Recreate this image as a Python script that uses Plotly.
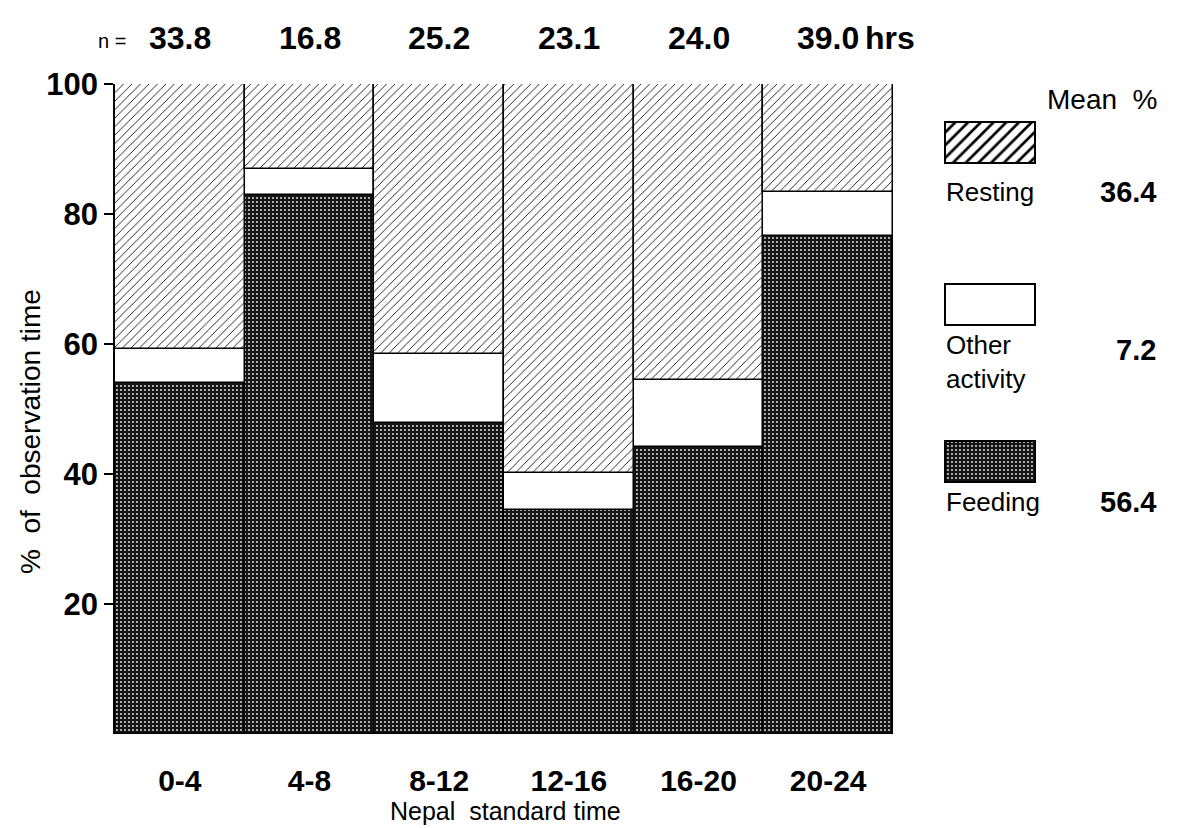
import plotly.graph_objects as go

# Four-hour periods of the day and observation effort per period
periods = ["0-4", "4-8", "8-12", "12-16", "16-20", "20-24"]
hours = ["33.8", "16.8", "25.2", "23.1", "24.0", "39.0"]

# Percent of observation time per activity
feeding = [54.0, 83.0, 47.8, 34.4, 44.2, 76.6]
other = [5.3, 4.0, 10.6, 5.7, 10.3, 6.8]
resting = [round(100 - f - o, 1) for f, o in zip(feeding, other)]

# Legend entries with the overall mean percentages
key_labels = ["Resting", "Other<br>activity", "Feeding"]
key_means = ["36.4", "7.2", "56.4"]
y_ticks = [20, 40, 60, 80, 100]

W, H = 1187, 828
ML, MR, MT, MB = 115, 20, 84, 94
PW, PH = W - ML - MR, H - MT - MB


def px(x):
    return (x - ML) / PW


def py(y):
    return (H - MB - y) / PH


FONT = "Liberation Sans"
stipple = dict(shape=".", fgcolor="#e6e6e6", bgcolor="#141414", size=4,
               solidity=0.18, fillmode="replace")
hatch = dict(shape="/", fgcolor="#000000", bgcolor="#ffffff", size=6,
             solidity=0.14, fillmode="replace")
edge = dict(color="#000000", width=1.5)

fig = go.Figure()

base_other = feeding
base_rest = [f + o for f, o in zip(feeding, other)]
fig.add_trace(go.Bar(x=periods, y=feeding, base=[0] * 6, width=1,
                     marker=dict(color="#141414", pattern=stipple, line=edge),
                     showlegend=False, hoverinfo="skip"))
fig.add_trace(go.Bar(x=periods, y=other, base=base_other, width=1,
                     marker=dict(color="#ffffff", line=edge),
                     showlegend=False, hoverinfo="skip"))
fig.add_trace(go.Bar(x=periods, y=resting, base=base_rest, width=1,
                     marker=dict(color="#ffffff", pattern=hatch, line=edge),
                     showlegend=False, hoverinfo="skip"))

# Key swatches, drawn on a pixel-scaled helper axis at the right
key_tops = [122, 284, 441]
key_h = 41
key_fills = [
    dict(color="#ffffff", pattern=dict(shape="/", fgcolor="#000", bgcolor="#fff",
                                       size=9, solidity=0.3, fillmode="replace")),
    dict(color="#ffffff"),
    dict(color="#141414", pattern=stipple),
]
for top, fill in zip(key_tops, key_fills):
    m = dict(fill)
    m["line"] = dict(color="#000", width=2)
    fig.add_trace(go.Bar(x=[990], y=[key_h], base=[top], width=[90],
                         xaxis="x2", yaxis="y2", marker=m,
                         showlegend=False, hoverinfo="skip"))


def note(x, y, text, size, bold=False, xref="paper", xanchor="center", angle=0):
    font = dict(family=FONT, size=size, color="#000")
    if bold:
        font["weight"] = "bold"
    return dict(x=x, y=y, xref=xref, yref="paper", text=text, showarrow=False,
                xanchor=xanchor, yanchor="middle", textangle=angle, font=font,
                align="left")


ann = []
# Observation hours above each bar
ann.append(note(px(112), py(41), "n =", 20))
for p, h in zip(periods, hours):
    ann.append(note(p, py(38), h, 32, bold=True, xref="x"))
ann.append(note(px(863), py(38), "hrs", 32, bold=True, xanchor="left"))

# Key text
ann.append(note(px(1160), py(100), "Mean  %", 28, xanchor="right"))
label_y = [192, 362, 502]
value_y = [192, 350, 502]
for lab, val, ly, vy in zip(key_labels, key_means, label_y, value_y):
    ann.append(note(px(944), py(ly), lab, 26, xanchor="left"))
    ann.append(note(px(1158), py(vy), val, 29, bold=True, xanchor="right"))

# Axis titles
ann.append(note(px(505), py(811), "Nepal  standard time", 25))
ann.append(note(px(30), py(432), "%  of  observation time", 28, angle=-90))

fig.update_layout(
    width=W, height=H,
    margin=dict(l=ML, r=MR, t=MT, b=MB),
    paper_bgcolor="#ffffff", plot_bgcolor="#ffffff",
    barmode="overlay", bargap=0,
    showlegend=False,
    annotations=ann,
    xaxis=dict(domain=[0, px(893)], type="category", range=[-0.5, 5.5],
               showgrid=False, zeroline=False, showline=False, ticks="",
               ticklabelstandoff=26,
               tickfont=dict(family=FONT, size=30, color="#000", weight="bold")),
    yaxis=dict(range=[0, 100], tickvals=y_ticks, ticks="outside", ticklen=9,
               tickwidth=1.5, tickcolor="#000", showgrid=False, zeroline=False,
               showline=True, linecolor="#000", linewidth=1.5,
               tickfont=dict(family=FONT, size=31, color="#000", weight="bold")),
    xaxis2=dict(domain=[px(930), 1.0], range=[930, W - MR], anchor="y2",
                visible=False),
    yaxis2=dict(domain=[0, 1], range=[H - MB, MT], anchor="x2", visible=False),
)

fig.write_html("out.html")
